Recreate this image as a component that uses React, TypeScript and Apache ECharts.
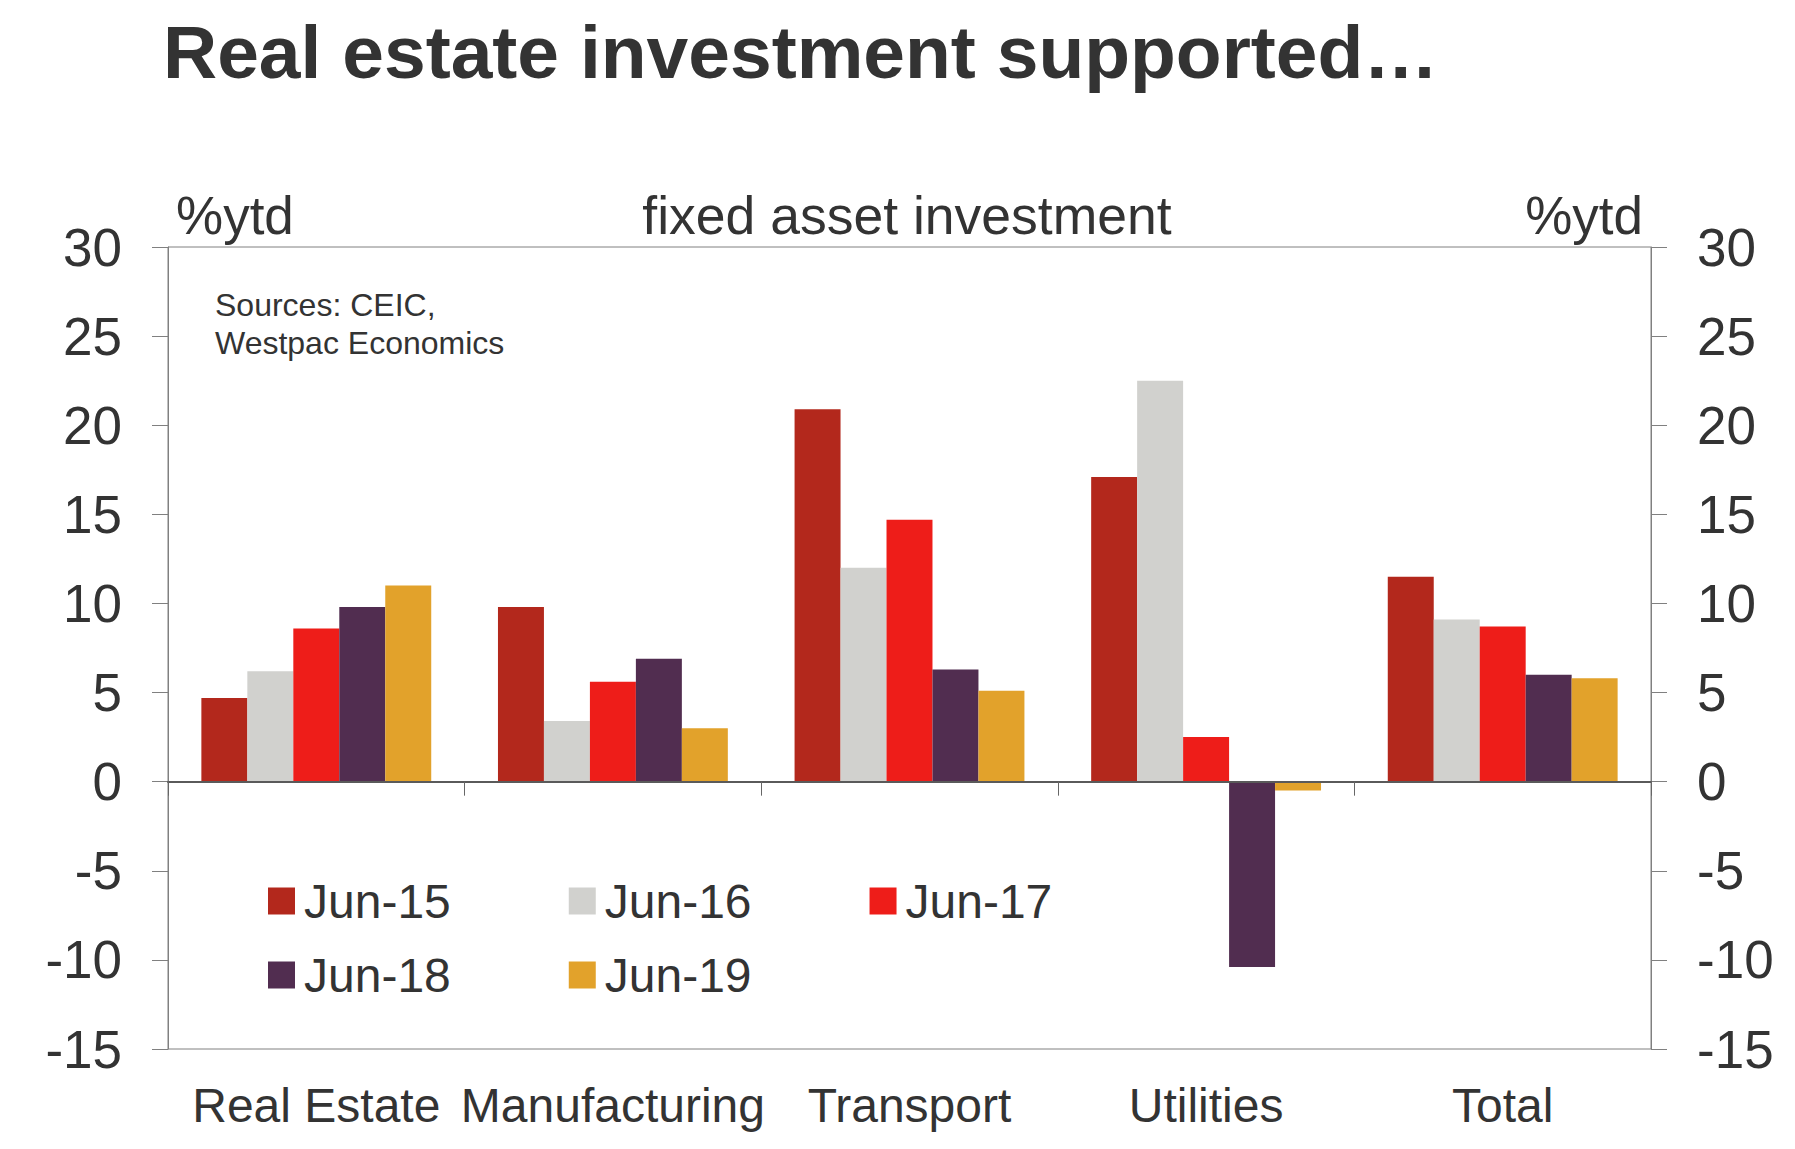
import React, { useEffect, useRef } from "react";
import * as echarts from "echarts";

const categories = ["Real Estate", "Manufacturing", "Transport", "Utilities", "Total"];
const seriesNames = ["Jun-15", "Jun-16", "Jun-17", "Jun-18", "Jun-19"];
const jun15 = [4.7, 9.8, 20.9, 17.1, 11.5];
const jun16 = [6.2, 3.4, 12.0, 22.5, 9.1];
const jun17 = [8.6, 5.6, 14.7, 2.5, 8.7];
const jun18 = [9.8, 6.9, 6.3, -10.4, 6.0];
const jun19 = [11.0, 3.0, 5.1, -0.5, 5.8];
const seriesColors = ["#B3281C", "#D1D1CE", "#EE1D19", "#512D50", "#E2A22B"];
const yMin = -15;
const yMax = 30;
const yStep = 5;
const titleText = "Real estate investment supported…";
const unitLabel = "%ytd";
const centerLabel = "fixed asset investment";
const sourceLines = ["Sources: CEIC,", "Westpac Economics"];

export default function App() {
  const ref = useRef<HTMLDivElement>(null);
  useEffect(() => {
    const chart = echarts.init(ref.current!, null, { renderer: "svg" });
    const font = '"Liberation Sans", Arial, Helvetica, sans-serif';
    const textColor = "#333333";
    const axisColor = "#808080";
    const values = [jun15, jun16, jun17, jun18, jun19];

    const legendCommon = {
      orient: "horizontal",
      padding: 0,
      itemWidth: 27,
      itemHeight: 27,
      itemGap: 118,
      icon: "rect",
      textStyle: {
        fontFamily: font,
        fontSize: 48,
        lineHeight: 48,
        color: textColor,
        padding: [0, 0, 0, 4],
      },
    };

    chart.setOption({
      animation: false,
      backgroundColor: "#ffffff",
      grid: {
        left: 168,
        right: 144,
        top: 247,
        bottom: 100,
        show: true,
        borderColor: axisColor,
        borderWidth: 1,
        backgroundColor: "transparent",
      },
      legend: [
        { ...legendCommon, left: 268, top: 877, data: seriesNames.slice(0, 3) },
        { ...legendCommon, left: 268, top: 951, data: seriesNames.slice(3) },
      ],
      xAxis: [
        {
          type: "category",
          data: categories,
          position: "bottom",
          z: 3,
          axisLine: { show: true, onZero: true, lineStyle: { color: "#5a5a5a", width: 2 } },
          axisTick: { show: true, length: 14, inside: false, lineStyle: { color: "#666666", width: 1 } },
          axisLabel: { show: false },
          splitLine: { show: false },
        },
        {
          type: "category",
          data: categories,
          position: "bottom",
          axisLine: { show: false, onZero: false },
          axisTick: { show: false },
          axisLabel: {
            show: true,
            margin: 32,
            fontFamily: font,
            fontSize: 48,
            lineHeight: 48,
            color: textColor,
            interval: 0,
          },
          splitLine: { show: false },
        },
      ],
      yAxis: [
        {
          type: "value",
          position: "left",
          min: yMin,
          max: yMax,
          interval: yStep,
          axisLine: { show: true, lineStyle: { color: axisColor, width: 1 } },
          axisTick: { show: true, length: 16, inside: false, lineStyle: { color: axisColor, width: 1 } },
          axisLabel: { margin: 46, fontFamily: font, fontSize: 53, color: textColor },
          splitLine: { show: false },
        },
        {
          type: "value",
          position: "right",
          min: yMin,
          max: yMax,
          interval: yStep,
          axisLine: { show: true, lineStyle: { color: axisColor, width: 1 } },
          axisTick: { show: true, length: 16, inside: false, lineStyle: { color: axisColor, width: 1 } },
          axisLabel: { margin: 46, fontFamily: font, fontSize: 53, color: textColor },
          splitLine: { show: false },
        },
      ],
      series: seriesNames.map((name, i) => ({
        name,
        type: "bar",
        xAxisIndex: 0,
        yAxisIndex: 0,
        data: values[i],
        barGap: "0%",
        barCategoryGap: "22.5%",
        itemStyle: { color: seriesColors[i] },
      })),
      graphic: [
        {
          type: "text",
          x: 163,
          y: 52,
          style: {
            text: titleText,
            fontFamily: font,
            fontSize: 75,
            fontWeight: "bold",
            fill: textColor,
            align: "left",
            verticalAlign: "middle",
          },
        },
        {
          type: "text",
          x: 176,
          y: 215,
          style: {
            text: unitLabel,
            fontFamily: font,
            fontSize: 53,
            fill: textColor,
            align: "left",
            verticalAlign: "middle",
          },
        },
        {
          type: "text",
          x: 907,
          y: 215,
          style: {
            text: centerLabel,
            fontFamily: font,
            fontSize: 53.5,
            fill: textColor,
            align: "center",
            verticalAlign: "middle",
          },
        },
        {
          type: "text",
          x: 1643,
          y: 215,
          style: {
            text: unitLabel,
            fontFamily: font,
            fontSize: 53,
            fill: textColor,
            align: "right",
            verticalAlign: "middle",
          },
        },
        ...sourceLines.map((line, i) => ({
          type: "text",
          x: 215,
          y: 305 + i * 38,
          style: {
            text: line,
            fontFamily: font,
            fontSize: 32,
            fill: textColor,
            align: "left",
            verticalAlign: "middle",
          },
        })),
      ],
    });
    return () => chart.dispose();
  }, []);
  return (
    <div
      ref={ref}
      style={{ position: "fixed", left: 0, top: 0, width: 1795, height: 1149, background: "#ffffff" }}
    />
  );
}
